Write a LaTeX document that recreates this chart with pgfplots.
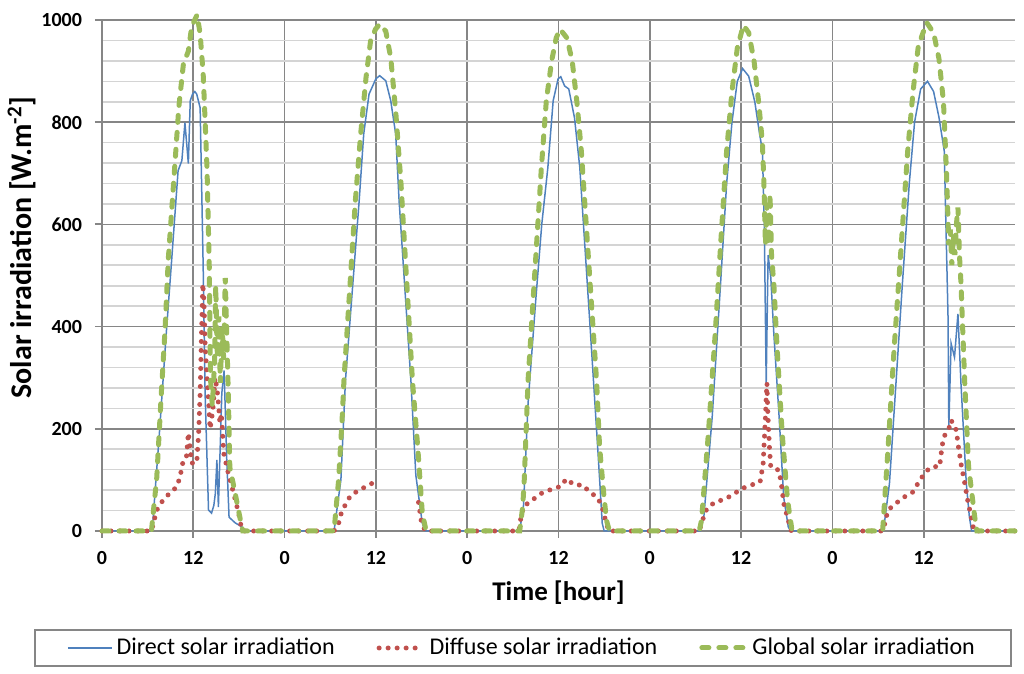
\documentclass[border=0pt]{standalone}
\usepackage{fontspec}
\setmainfont{Carlito}
\usepackage{pgfplots}
\pgfplotsset{compat=1.18}
\definecolor{cdir}{RGB}{79,129,189}
\definecolor{cdif}{RGB}{192,80,77}
\definecolor{cglo}{RGB}{155,187,89}
\definecolor{gmaj}{RGB}{134,134,134}
\definecolor{gmin}{RGB}{212,212,212}
\begin{document}
\begin{tikzpicture}
\begin{axis}[name=ax, scale only axis, width=456.5pt, height=255.5pt,
 xmin=0, xmax=120, ymin=0, ymax=1000, clip=false,
 axis x line*=bottom, axis y line*=left,
 axis line style={draw=gmaj, line width=1.3pt, -},
 xtick={0,12,...,108}, xticklabels={0,12,0,12,0,12,0,12,0,12},
 ytick={0,200,...,1000},
 minor y tick num=4,
 xmajorgrids, ymajorgrids, yminorgrids,
 major grid style={draw=gmaj, line width=0.8pt},
 minor grid style={draw=gmin, line width=0.8pt},
 tick align=outside, major tick length=3.5pt, minor tick length=0pt,
 major tick style={draw=gmaj, line width=0.9pt},
 /pgf/number format/assume math mode=true,
 /pgf/number format/1000 sep={},
 ticklabel style={font=\bfseries\fontsize{10}{12}\selectfont},
 xticklabel style={yshift=-3pt},
 yticklabel style={xshift=-3pt},
 xlabel={Time [hour]},
 ylabel={Solar irradiation [W.m\textsuperscript{-2}]},
 xlabel style={font=\bfseries\fontsize{13.5}{16}\selectfont, at={(axis description cs:0.5,0)}, anchor=center, yshift=-31pt},
 ylabel style={font=\bfseries\fontsize{15}{18}\selectfont, at={(axis description cs:-0.0876,0.555)}, anchor=center},
 legend columns=3,
 legend image code/.code={\draw[#1] (0pt,0pt) -- (22pt,0pt);},
 legend style={at={(axis description cs:0,0)}, anchor=center, xshift=210.5pt, yshift=-58.5pt,
   draw=gmaj, line width=0.7pt, font=\fontsize{12}{14}\selectfont,
   /tikz/every even column/.append style={column sep=19pt},
   inner xsep=16pt, inner ysep=2pt},
]
\addplot[cdir, line width=0.75pt] coordinates {
(0,0)(6.5,0)(6.7,21)(7.6,203)(8.5,398)(9.15,529)(10.0,705)(10.5,725)(10.9,799)(11.35,719)(11.6,842)(11.9,855)(12.2,860)(12.45,855)(12.9,828)(13.3,516)(13.55,270)(14.0,41)(14.4,35)(14.7,50)(14.9,74)(15.1,139)(15.3,47)(15.75,270)(16.05,314)(16.4,139)(16.7,27)(17.5,16)(18.4,8)(18.6,0)
(30.5,0)(31.4,100)(32.0,295)(33.8,646)(34.4,777)(35.1,855)(36.0,885)(36.5,891)(37.3,881)(37.95,842)(38.6,777)(39.05,646)(40.6,295)(41.25,109)(42.1,15)(42.5,0)
(54.9,0)(55.4,50)(56.0,250)(57.0,450)(57.8,600)(58.6,711)(59.3,842)(59.95,885)(60.3,889)(60.8,871)(61.35,865)(62.1,809)(62.8,711)(63.5,550)(64.3,365)(65.2,152)(65.75,15)(66.0,0)
(78.6,0)(79.1,27)(80.2,223)(81.3,484)(82.1,680)(82.8,800)(83.5,880)(84.2,905)(85.0,890)(85.8,840)(86.4,780)(86.8,744)(87.05,600)(87.3,289)(87.55,540)(87.9,497)(88.3,387)(89.0,223)(89.6,66)(90.2,8)(90.5,0)
(102.7,0)(103.5,93)(104.35,288)(105.2,484)(106.1,679)(106.8,800)(107.6,865)(108.5,880)(109.3,860)(110.0,810)(110.7,744)(111.2,418)(111.3,204)(111.6,367)(112.05,340)(112.5,425)(112.9,288)(113.6,93)(114.0,28)(114.3,0)(120,0)
};
\addlegendentry{Direct solar irradiation}
\addplot[cdif, line width=2.5pt, line cap=round, dash pattern=on 0pt off 4.5pt, unbounded coords=jump] coordinates {
(0,0)(6.5,0)(7.2,41)(8.0,60)(8.9,74)(9.8,86)(10.25,105)(10.5,125)(10.7,139)(11.1,145)(11.35,192)(11.6,160)(11.8,133)(12.45,133)(12.7,191)(12.9,270)(13.0,334)(13.1,398)(13.25,484)(13.4,451)(13.55,367)(13.8,301)(14.0,256)(14.2,200)(14.4,217)(14.65,250)(14.85,300)(15.1,281)(15.3,250)(15.5,211)(15.7,230)(15.9,178)(16.0,152)(16.6,113)(17.3,74)(17.95,35)(18.3,8)(18.5,0)
(30.5,0)(31.1,15)(31.45,35)(32.0,52)(32.7,70)(33.8,80)(36.1,98)(38,nan)(41.6,56)(41.8,36)(42.0,16)(42.5,0)
(54.8,0)(55.1,31)(55.5,51)(56.2,55)(57.0,66)(58.0,76)(60.4,88)(61.0,102)(62.1,90)(63.2,90)(64.1,76)(65.1,66)(65.7,49)(66.2,20)(66.6,0)
(78.5,0)(78.9,20)(79.5,44)(80.6,57)(81.85,62)(83.0,72)(84.1,83)(85.35,90)(86.5,96)(86.9,132)(87.05,178)(87.2,223)(87.3,262)(87.4,289)(87.5,236)(87.6,204)(87.75,158)(87.9,125)(88.95,119)(89.2,100)(89.4,80)(89.6,54)(90.2,21)(90.6,0)
(102.6,0)(102.9,15)(103.3,41)(104.6,57)(105.5,67)(106.5,75)(107.65,103)(108.5,119)(109.1,126)(110.1,126)(110.4,165)(110.65,184)(111.4,204)(111.6,217)(112.3,197)(112.5,171)(112.9,132)(113.4,93)(113.85,54)(114.25,28)(114.6,0)(120,0)
};
\addlegendentry{Diffuse solar irradiation}
\addplot[cglo, line width=2.5pt, line cap=round, dash pattern=on 3.5pt off 5pt] coordinates {
(0,0)(6.5,0)(7.2,105)(7.8,270)(8.3,398)(8.7,529)(9.5,700)(10.1,830)(10.7,914)(11.35,939)(11.8,988)(12.5,1010)(12.9,973)(13.3,894)(13.5,822)(13.8,711)(14.0,582)(14.1,516)(14.25,300)(14.5,245)(14.8,330)(14.95,480)(15.15,340)(15.35,420)(15.55,290)(15.8,400)(16.0,335)(16.2,495)(16.6,270)(16.8,125)(17.5,74)(18.2,21)(18.5,0)
(30.5,0)(31.1,100)(31.6,230)(31.8,295)(33.3,646)(34.0,777)(34.7,887)(35.3,959)(35.95,982)(36.5,992)(37.3,978)(37.95,926)(38.6,822)(39.3,680)(40.8,295)(41.5,164)(42.1,35)(42.6,0)
(54.9,0)(55.3,48)(55.5,100)(56.0,295)(57.75,711)(58.4,842)(59.1,920)(59.7,965)(60.2,982)(61.1,965)(61.8,920)(62.4,842)(63.0,744)(65.0,295)(65.4,165)(65.9,80)(66.3,21)(66.7,0)
(78.5,0)(78.8,21)(79.7,191)(80.6,387)(81.4,582)(82.1,744)(82.8,860)(83.5,945)(84.3,990)(85.0,975)(85.7,920)(86.3,840)(86.8,760)(87.0,680)(87.2,560)(87.4,640)(87.6,560)(87.8,660)(88.0,540)(88.3,484)(88.75,354)(89.4,191)(90.1,61)(90.7,0)
(102.6,0)(103.3,158)(104.1,354)(105.0,549)(105.9,744)(106.6,860)(107.3,950)(108.4,995)(109.3,975)(110.0,925)(110.6,840)(111.0,700)(111.3,560)(111.5,590)(111.7,520)(111.9,580)(112.1,540)(112.3,600)(112.5,633)(112.7,540)(112.9,484)(113.4,288)(113.9,126)(114.7,28)(115.0,0)(120,0)
};
\addlegendentry{Global solar irradiation}
\end{axis}
\path (ax.south west) ++(-51pt,-71.5pt) rectangle ++(512pt,337pt);
\end{tikzpicture}
\end{document}
